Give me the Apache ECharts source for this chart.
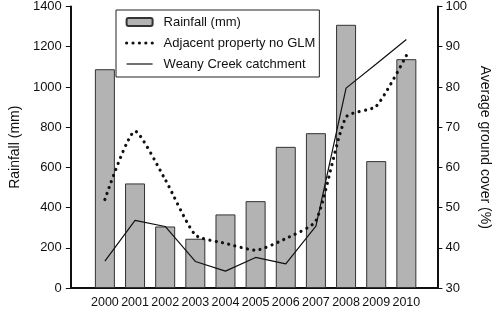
<!DOCTYPE html>
<html>
<head>
<meta charset="utf-8">
<script src="https://cdn.jsdelivr.net/npm/echarts@6/dist/echarts.min.js"></script>
<style>
  html, body { margin: 0; padding: 0; background: #fff; }
  #chart { width: 500px; height: 309px; }
</style>
</head>
<body>
<div id="chart"></div>
<script>
  // 数据
  var years = [2000, 2001, 2002, 2003, 2004, 2005, 2006, 2007, 2008, 2009, 2010];
  var rainfall = [1088, 520, 306, 245, 366, 432, 702, 770, 1309, 631, 1138];
  var adjacentCover = [52.0, 69.0, 57.0, 43.2, 41.1, 39.4, 42.3, 46.7, 72.5, 75.2, 87.8];
  var weanyCover = [36.7, 46.8, 45.3, 36.6, 34.2, 37.6, 36.0, 45.4, 79.7, 85.7, 91.8];

  function pairs(xs, ys) {
    var out = [];
    for (var i = 0; i < xs.length; i++) {
      out.push([xs[i], ys[i]]);
    }
    return out;
  }

  var font = 'Liberation Sans, Arial, sans-serif';
  var chart = echarts.init(document.getElementById('chart'));

  // 图例里的线条不要圆点
  var noSymbol = { color: 'rgba(0,0,0,0)', borderWidth: 0 };
  var dotted = { color: '#111', width: 3.2, type: [0.01, 6.4], cap: 'round' };

  var option = {
    animation: false,
    textStyle: { fontFamily: font, color: '#111' },
    grid: { left: 53, right: 54, top: 6, bottom: 21 },
    legend: {
      orient: 'vertical',
      left: 116,
      top: 10,
      padding: [5, 4, 6, 9],
      itemGap: 7,
      itemWidth: 26,
      itemHeight: 8,
      borderColor: '#222',
      borderWidth: 1,
      backgroundColor: '#fff',
      textStyle: { fontSize: 13, lineHeight: 14, color: '#111', padding: [0, 0, 0, 6] },
      data: [
        { name: 'Rainfall (mm)' },
        { name: 'Adjacent property no GLM', itemStyle: noSymbol, lineStyle: dotted },
        { name: 'Weany Creek catchment', itemStyle: noSymbol, lineStyle: { color: '#111', width: 1.2 } }
      ]
    },
    xAxis: {
      type: 'value',
      min: 1998.87,
      max: 2011.03,
      splitLine: { show: false },
      axisLine: { lineStyle: { color: '#111', width: 2 } },
      axisTick: { show: false },
      axisLabel: {
        customValues: years,
        fontSize: 12.5,
        color: '#111',
        margin: 8,
        formatter: function (v) { return String(v); }
      }
    },
    yAxis: [{
        type: 'value',
        min: 0,
        max: 1400,
        interval: 200,
        name: 'Rainfall (mm)',
        nameLocation: 'middle',
        nameGap: 36,
        nameTextStyle: { fontSize: 14, color: '#111' },
        splitLine: { show: false },
        axisLine: { show: true, lineStyle: { color: '#111', width: 2 } },
        axisTick: { show: true, length: 5, lineStyle: { color: '#111' } },
        axisLabel: {
          fontSize: 13,
          color: '#111',
          margin: 9,
          formatter: function (v) { return String(v); }
        }
      },
      {
        type: 'value',
        min: 30,
        max: 100,
        interval: 10,
        position: 'right',
        name: 'Average ground cover (%)',
        nameLocation: 'middle',
        nameGap: 38,
        nameRotate: -90,
        nameTextStyle: { fontSize: 14, color: '#111' },
        splitLine: { show: false },
        axisLine: { show: true, lineStyle: { color: '#111', width: 2 } },
        axisTick: { show: true, length: 5, lineStyle: { color: '#111' } },
        axisLabel: { fontSize: 13, color: '#111', margin: 8 }
      }
    ],
    series: [{
        name: 'Rainfall (mm)',
        type: 'bar',
        barWidth: 20,
        data: pairs(years, rainfall),
        itemStyle: {
          color: '#b3b3b3',
          borderColor: '#333',
          borderWidth: 1
        }
      },
      {
        name: 'Adjacent property no GLM',
        type: 'line',
        yAxisIndex: 1,
        smooth: 0.2,
        symbol: 'none',
        data: pairs(years, adjacentCover),
        itemStyle: { color: '#111' },
        lineStyle: dotted
      },
      {
        name: 'Weany Creek catchment',
        type: 'line',
        yAxisIndex: 1,
        symbol: 'none',
        data: pairs(years, weanyCover),
        itemStyle: { color: '#111' },
        lineStyle: { color: '#111', width: 1.2 }
      }
    ]
  };
  chart.setOption(option);
</script>
</body>
</html>
